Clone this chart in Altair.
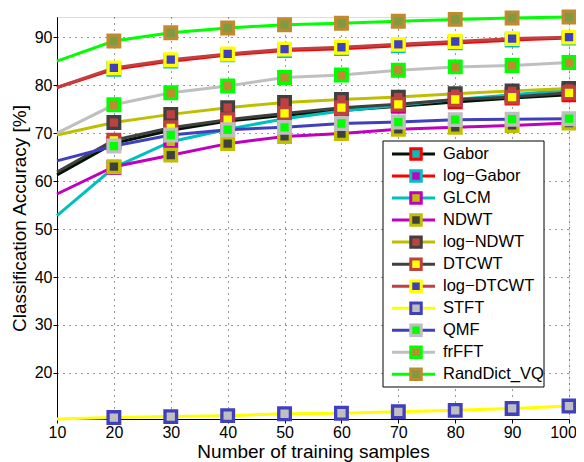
import altair as alt
import pandas as pd

# ---- data ----
x_values = [10, 20, 30, 40, 50, 60, 70, 80, 90, 100]
series_names = ["Gabor", "log\u2212Gabor", "GLCM", "NDWT", "log\u2212NDWT", "DTCWT",
                "log\u2212DTCWT", "STFT", "QMF", "frFFT", "RandDict_VQ"]
gabor     = [61.3, 67.9, 70.6, 72.5, 73.7, 74.7, 75.6, 76.5, 77.3, 78.0]
log_gabor = [79.5, 83.3, 85.0, 86.3, 87.2, 87.6, 88.2, 88.8, 89.4, 89.8]
glcm      = [52.8, 62.8, 68.2, 70.8, 73.0, 74.6, 75.8, 77.0, 78.0, 79.0]
ndwt      = [57.3, 63.0, 65.4, 67.8, 69.3, 69.9, 70.8, 71.2, 71.6, 72.1]
log_ndwt  = [69.6, 72.2, 73.9, 75.3, 76.4, 77.0, 77.5, 78.2, 78.8, 79.3]
dtcwt     = [61.9, 68.5, 71.1, 72.8, 74.1, 75.3, 76.0, 77.0, 77.5, 78.4]
log_dtcwt = [79.5, 83.6, 85.3, 86.5, 87.5, 87.9, 88.5, 89.1, 89.7, 90.0]
stft      = [10.4, 10.7, 10.9, 11.1, 11.5, 11.6, 11.9, 12.2, 12.6, 13.1]
qmf       = [64.2, 67.3, 69.6, 70.7, 71.2, 72.0, 72.3, 72.8, 72.9, 73.0]
frfft     = [70.0, 75.9, 78.4, 79.8, 81.6, 82.1, 83.1, 83.8, 84.1, 84.7]
randdict  = [85.0, 89.2, 90.9, 91.9, 92.6, 92.9, 93.3, 93.7, 94.0, 94.2]
all_series = [gabor, log_gabor, glcm, ndwt, log_ndwt, dtcwt, log_dtcwt, stft, qmf, frfft, randdict]

y_ticks = [20, 30, 40, 50, 60, 70, 80, 90]
x_ticks = x_values

# ---- styles ----
line_colors = ["#001400", "#ff0000", "#00bfbf", "#bf00bf", "#bfbf00", "#404040",
               "#bf4040", "#ffff00", "#4040bf", "#bfbfbf", "#00ff00"]
edge_colors = ["#ff0000", "#00bfbf", "#bf00bf", "#bfbf00", "#404040", "#bf4040",
               "#ffff00", "#4040bf", "#bfbfbf", "#00ff00", "#bf8a30"]
face_colors = ["#00bfbf", "#bf00bf", "#bfbf00", "#404040", "#bf4040", "#ffff00",
               "#4040bf", "#bfbfbf", "#00ff00", "#bf8a30", "#809a40"]

FONT = "Liberation Sans"
W, H = 512, 402

xscale = alt.Scale(domain=[10, 100], nice=False, zero=False)
yscale = alt.Scale(domain=[10.4, 94.2], nice=False, zero=False)
xaxis = alt.Axis(values=x_ticks, title="Number of training samples", grid=True,
                 gridDash=[1, 5], gridColor="#333333", gridWidth=1,
                 labelFontSize=16, titleFontSize=19, titleFontWeight="normal",
                 labelFont=FONT, titleFont=FONT, labelColor="black", titleColor="black",
                 domainColor="black", tickColor="black", tickSize=4, labelPadding=1,
                 titlePadding=2, labelFlush=False, labelOverlap=False,
                 labelOffset={"condition": {"test": "datum.value == 100", "value": -6}, "value": 0})
yaxis = alt.Axis(values=y_ticks, title="Classification Accuracy [%]", grid=True,
                 gridDash=[1, 5], gridColor="#333333", gridWidth=1,
                 labelFontSize=16, titleFontSize=19, titleFontWeight="normal",
                 labelFont=FONT, titleFont=FONT, labelColor="black", titleColor="black",
                 domainColor="black", tickColor="black", tickSize=4, labelPadding=1,
                 titlePadding=5, labelFlush=False)

layers = []
for i, vals in enumerate(all_series):
    df = pd.DataFrame({"x": x_values, "y": vals})
    base = alt.Chart(df).encode(
        x=alt.X("x:Q", scale=xscale, axis=xaxis),
        y=alt.Y("y:Q", scale=yscale, axis=yaxis),
    )
    layers.append(base.mark_line(color=line_colors[i], strokeWidth=3, clip=False))
    layers.append(
        base.transform_filter("datum.x >= 20").mark_point(
            shape="square", filled=True, size=135, fill=face_colors[i],
            stroke=edge_colors[i], strokeWidth=3.3, opacity=1)
    )
main = alt.layer(*layers)

# ---- manual legend (box, line samples, markers, labels) ----
leg_df = pd.DataFrame({
    "idx": list(range(len(series_names))),
    "name": series_names,
    "lc": line_colors,
    "ec": edge_colors,
    "fc": face_colors,
})
leg_base = alt.Chart(leg_df).transform_calculate(ly="137 + datum.idx * 22.03")
box = alt.Chart(alt.Data(values=[{"a": 1}])).mark_rect(
    fill="white", stroke="black", strokeWidth=1
).encode(x=alt.value(326), x2=alt.value(487), y=alt.value(124), y2=alt.value(370))
leg_lines = leg_base.mark_rule(strokeWidth=3).encode(
    x=alt.value(335), x2=alt.value(378),
    y=alt.Y("ly:Q", scale=None, axis=None),
    color=alt.Color("lc:N", scale=None),
)
leg_pts = leg_base.mark_point(shape="square", filled=True, size=110, strokeWidth=3, opacity=1).encode(
    x=alt.value(359),
    y=alt.Y("ly:Q", scale=None, axis=None),
    fill=alt.Fill("fc:N", scale=None),
    stroke=alt.Stroke("ec:N", scale=None),
)
leg_text = leg_base.mark_text(align="left", baseline="middle", fontSize=16.5, font=FONT, color="black").encode(
    x=alt.value(386),
    y=alt.Y("ly:Q", scale=None, axis=None),
    text="name:N",
)
legend = alt.layer(box, leg_lines, leg_pts, leg_text)

chart = alt.layer(main, legend).resolve_scale(x="independent", y="independent").properties(
    width=W, height=H,
    autosize=alt.AutoSizeParams(type="none"),
    padding={"left": 49, "top": 9, "right": 7, "bottom": 44},
).configure_view(stroke="black", strokeWidth=1).configure(background="white")

chart.save("out.html", embed_options={"renderer": "svg", "actions": False})
